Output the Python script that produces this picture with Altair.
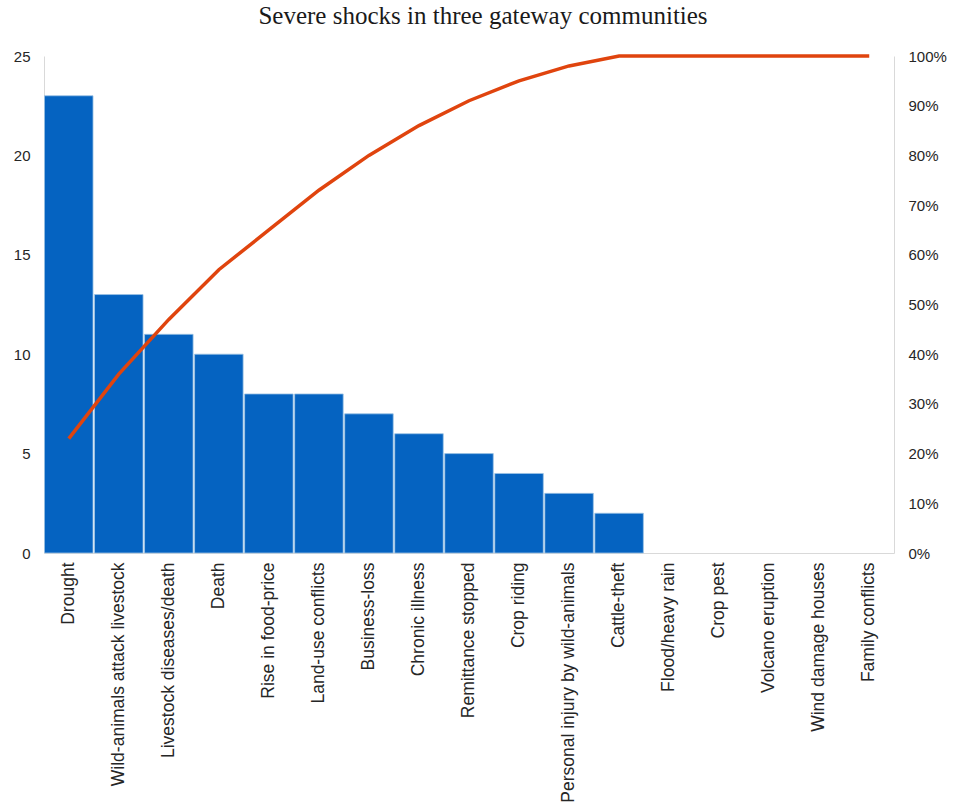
import altair as alt
import pandas as pd

categories = ["Drought", "Wild-animals attack livestock", "Livestock diseases/death", "Death",
              "Rise in food-price", "Land-use conflicts", "Business-loss", "Chronic illness",
              "Remittance stopped", "Crop riding", "Personal injury by wild-animals", "Cattle-theft",
              "Flood/heavy rain", "Crop pest", "Volcano eruption", "Wind damage houses", "Family conflicts"]
counts = [23, 13, 11, 10, 8, 8, 7, 6, 5, 4, 3, 2, 0, 0, 0, 0, 0]
cumulative_pct = [0.23, 0.36, 0.47, 0.57, 0.65, 0.73, 0.80, 0.86, 0.91, 0.95, 0.98, 1.0, 1.0, 1.0, 1.0, 1.0, 1.0]

df = pd.DataFrame({"cat": categories, "count": counts, "cum": cumulative_pct})

x = alt.X("cat:N", sort=categories, title=None,
          scale=alt.Scale(domain=categories, paddingInner=0.03, paddingOuter=0.01),
          axis=alt.Axis(labelAngle=-90, labelFont="Liberation Sans", labelFontSize=17.5,
                        labelColor="#262626", labelPadding=9, ticks=False,
                        domainColor="#D9D9D9", labelLimit=300))

bars = alt.Chart(df).transform_filter("datum.count > 0").mark_bar(
    color="#0563C1", stroke="#9CC3E5", strokeWidth=0.8).encode(
    x=x,
    y=alt.Y("count:Q", title=None, scale=alt.Scale(domain=[0, 25]),
            axis=alt.Axis(values=[0, 5, 10, 15, 20, 25], grid=False, ticks=False,
                          domainColor="#D9D9D9", labelFont="Liberation Sans", labelFontSize=15,
                          labelColor="#262626", labelPadding=14))
)

line = alt.Chart(df).mark_line(color="#E0440E", strokeWidth=3.5).encode(
    x=x,
    y=alt.Y("cum:Q", title=None, scale=alt.Scale(domain=[0, 1]),
            axis=alt.Axis(orient="right", format="%", values=[i / 10 for i in range(11)],
                          grid=False, ticks=False, domainColor="#D9D9D9",
                          labelFont="Liberation Sans", labelFontSize=15,
                          labelColor="#262626", labelPadding=14))
)

chart = alt.layer(bars, line).resolve_scale(y="independent").properties(
    width=850, height=497,
    autosize=alt.AutoSizeParams(type="none"),
    padding={"left": 44, "top": 56, "right": 59, "bottom": 255},
    title=alt.TitleParams("Severe shocks in three gateway communities", font="Liberation Serif",
                          fontSize=25, fontWeight="normal", color="#1a1a1a", offset=20, dx=14)
).configure_view(stroke=None)

chart.save("out.html", embed_options={"renderer": "svg", "actions": False})
